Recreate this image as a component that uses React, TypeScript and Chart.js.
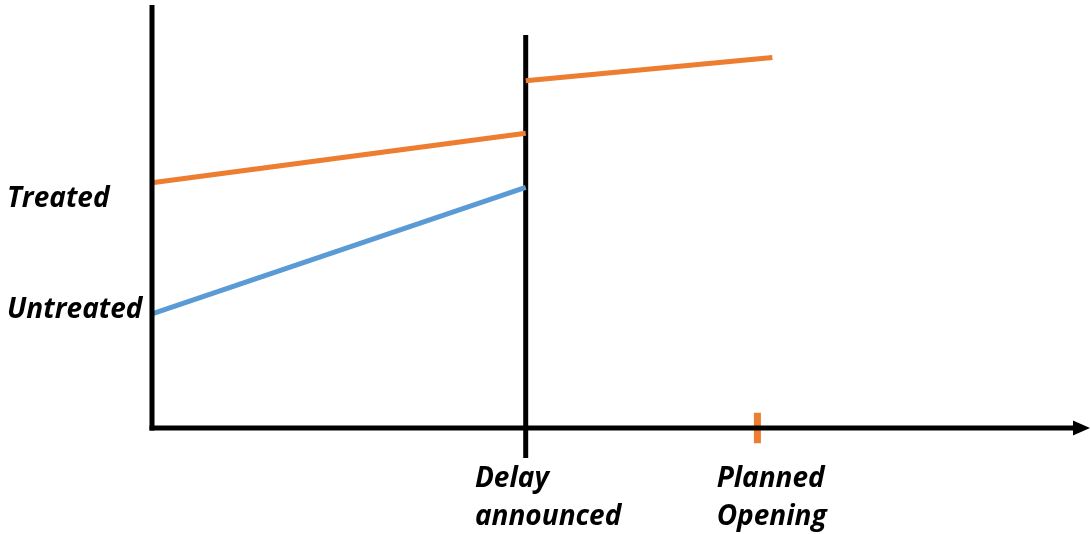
import React, { useEffect, useRef } from "react";
import { Chart, registerables } from "chart.js";

Chart.register(...registerables);

// Time axis (x) in arbitrary units; outcome (y) in arbitrary units
const X_MIN = 0;
const X_MAX = 25.1;
const Y_MIN = 0;
const Y_MAX = 100;

const delayX = 10;
const plannedOpeningX = 16.2;

const treatedPreX = [0, 10];
const treatedPreY = [58.0, 69.7];
const untreatedPreX = [0, 10];
const untreatedPreY = [27.0, 56.9];
const treatedPostX = [10, 16.6];
const treatedPostY = [82.1, 87.6];

const delayLineY = [-7.1, 92.9];
const plannedTickY = [-3.6, 3.6];

const yLabels = ["Treated", "Untreated"];
const yLabelValues = [52.2, 25.9];

const xLabels = [["Delay", "announced"], ["Planned", "Opening"]];
const xLabelValues = [8.64, 15.11];

const ORANGE = "#ED7D31";
const BLUE = "#5B9BD5";

const pts = (xs: number[], ys: number[]) => xs.map((x, i) => ({ x, y: ys[i] }));

const FONT = "italic bold 28px 'Open Sans'";
const TEXT_SCALE_X = 1.0;

const axesPlugin = {
  id: "axesPlugin",
  afterDatasetsDraw(chart: any) {
    const { ctx, scales } = chart;
    const xs = scales.x;
    const ys = scales.y;
    const x0 = xs.getPixelForValue(X_MIN);
    const xEnd = xs.getPixelForValue(X_MAX);
    const y0 = ys.getPixelForValue(Y_MIN);
    const yTop = ys.getPixelForValue(Y_MAX);
    ctx.save();
    ctx.strokeStyle = "#000";
    ctx.fillStyle = "#000";
    ctx.lineWidth = 5;
    ctx.lineCap = "butt";
    // y axis
    ctx.beginPath();
    ctx.moveTo(x0, yTop);
    ctx.lineTo(x0, y0 + 2.5);
    ctx.stroke();
    // x axis
    ctx.beginPath();
    ctx.moveTo(x0 - 2.5, y0);
    ctx.lineTo(xEnd - 14, y0);
    ctx.stroke();
    // arrow head
    ctx.beginPath();
    ctx.moveTo(xEnd, y0);
    ctx.lineTo(xEnd - 17, y0 - 7.5);
    ctx.lineTo(xEnd - 17, y0 + 7.5);
    ctx.closePath();
    ctx.fill();

    // labels
    ctx.font = FONT;
    ctx.textBaseline = "alphabetic";
    ctx.textAlign = "left";
    yLabels.forEach((t, i) => {
      const py = ys.getPixelForValue(yLabelValues[i]);
      ctx.save();
      ctx.translate(7, py);
      ctx.scale(TEXT_SCALE_X, 1);
      ctx.fillText(t, 0, 0);
      ctx.restore();
    });
    xLabels.forEach((lines, i) => {
      const px = xs.getPixelForValue(xLabelValues[i]);
      lines.forEach((t, j) => {
        ctx.save();
        ctx.translate(px, y0 + 59 + j * 38);
        ctx.scale(TEXT_SCALE_X, 1);
        ctx.fillText(t, 0, 0);
        ctx.restore();
      });
    });
    ctx.restore();
  },
};

export default function App() {
  const ref = useRef<HTMLCanvasElement>(null);
  useEffect(() => {
    if (!ref.current) return;
    const lineDs = (data: any[], color: string, width: number) => ({
      data,
      showLine: true,
      borderColor: color,
      backgroundColor: color,
      borderWidth: width,
      pointRadius: 0,
      borderCapStyle: "butt",
      clip: false,
      tension: 0,
    });
    const chart = new Chart(ref.current, {
      type: "scatter",
      data: {
        datasets: [
          lineDs(pts(treatedPreX, treatedPreY), ORANGE, 5),
          lineDs(pts(untreatedPreX, untreatedPreY), BLUE, 5),
          lineDs(pts(treatedPostX, treatedPostY), ORANGE, 5),
          lineDs(pts([delayX, delayX], delayLineY), "#000", 5),
          lineDs(pts([plannedOpeningX, plannedOpeningX], plannedTickY), ORANGE, 7),
        ] as any,
      },
      options: {
        animation: false,
        responsive: true,
        maintainAspectRatio: false,
        layout: { padding: { left: 152, top: 5, right: 1, bottom: 106 } },
        plugins: { legend: { display: false }, tooltip: { enabled: false } },
        events: [],
        scales: {
          x: { type: "linear", min: X_MIN, max: X_MAX, display: false },
          y: { type: "linear", min: Y_MIN, max: Y_MAX, display: false },
        },
      },
      plugins: [axesPlugin],
    });
    return () => chart.destroy();
  }, []);
  return (
    <div style={{ position: "absolute", left: 0, top: 0, width: 1091, height: 534, background: "#fff" }}>
      <canvas ref={ref} />
    </div>
  );
}
